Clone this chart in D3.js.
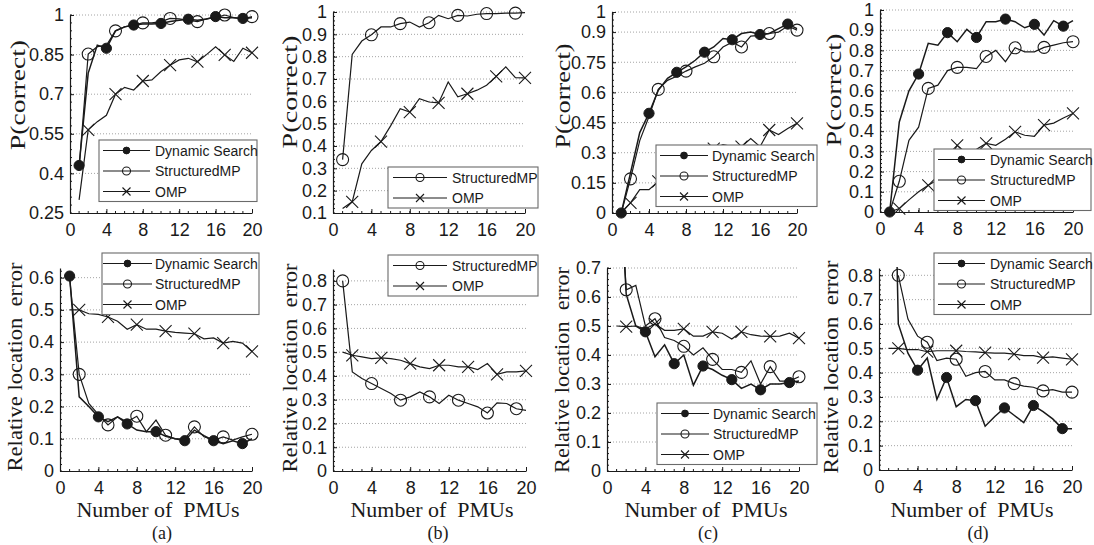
<!DOCTYPE html>
<html>
<head>
<meta charset="utf-8">
<script src="https://cdn.jsdelivr.net/npm/d3@7"></script>
<style>
body { margin: 0; background: #fff; }
svg { display: block; }
</style>
</head>
<body>
<svg width="1094" height="545"></svg>
<script>
// Number of PMUs (x)
var pmus = [1, 2, 3, 4, 5, 6, 7, 8, 9, 10, 11, 12, 13, 14, 15, 16, 17, 18, 19, 20];
var xTicks = [0, 4, 8, 12, 16, 20];
var seriesNames = ["Dynamic Search", "StructuredMP", "OMP"];

// (a) P(correct)
var dsCorrectA = [0.43, 0.78, 0.886, 0.874, 0.94, 0.955, 0.962, 0.966, 0.966, 0.968, 0.975, 0.98, 0.984, 0.98, 0.985, 0.994, 0.99, 0.99, 0.987, 0.99];
var smpCorrectA = [0.42, 0.852, 0.88, 0.885, 0.94, 0.955, 0.962, 0.97, 0.97, 0.975, 0.987, 0.985, 0.98, 0.975, 0.985, 0.99, 1.0, 0.99, 0.985, 0.994];
var ompCorrectA = [0.30, 0.565, 0.596, 0.62, 0.70, 0.726, 0.716, 0.75, 0.754, 0.786, 0.81, 0.83, 0.836, 0.823, 0.85, 0.88, 0.849, 0.824, 0.874, 0.857];
// (a) relative location error
var dsErrorA = [0.605, 0.23, 0.20, 0.168, 0.153, 0.168, 0.146, 0.127, 0.122, 0.122, 0.108, 0.10, 0.094, 0.127, 0.11, 0.094, 0.085, 0.094, 0.085, 0.10];
var smpErrorA = [0.60, 0.30, 0.21, 0.175, 0.143, 0.168, 0.153, 0.17, 0.122, 0.158, 0.111, 0.10, 0.10, 0.137, 0.106, 0.096, 0.106, 0.096, 0.106, 0.114];
var ompErrorA = [0.50, 0.50, 0.488, 0.486, 0.478, 0.465, 0.44, 0.454, 0.44, 0.44, 0.434, 0.43, 0.428, 0.426, 0.41, 0.413, 0.397, 0.402, 0.397, 0.371];

// (b)
var smpCorrectB = [0.339, 0.81, 0.87, 0.898, 0.933, 0.933, 0.948, 0.955, 0.933, 0.952, 0.985, 0.97, 0.985, 0.982, 0.99, 0.993, 0.993, 0.995, 0.995, 0.997];
var ompCorrectB = [0.12, 0.15, 0.32, 0.38, 0.42, 0.49, 0.567, 0.552, 0.612, 0.597, 0.593, 0.687, 0.62, 0.634, 0.65, 0.672, 0.712, 0.754, 0.706, 0.705];
var smpErrorB = [0.80, 0.417, 0.389, 0.368, 0.347, 0.326, 0.298, 0.312, 0.333, 0.312, 0.284, 0.319, 0.298, 0.284, 0.27, 0.244, 0.287, 0.284, 0.262, 0.255];
var ompErrorB = [0.50, 0.487, 0.48, 0.473, 0.476, 0.473, 0.466, 0.452, 0.438, 0.431, 0.445, 0.445, 0.438, 0.438, 0.427, 0.452, 0.407, 0.417, 0.417, 0.421];

// (c)
var dsCorrectC = [0, 0.2, 0.4, 0.496, 0.61, 0.67, 0.70, 0.727, 0.76, 0.80, 0.826, 0.868, 0.862, 0.893, 0.90, 0.888, 0.893, 0.917, 0.94, 0.917];
var smpCorrectC = [0, 0.17, 0.36, 0.48, 0.615, 0.66, 0.68, 0.706, 0.727, 0.745, 0.777, 0.826, 0.85, 0.826, 0.88, 0.884, 0.893, 0.90, 0.93, 0.91];
var ompCorrectC = [0, 0.05, 0.116, 0.116, 0.157, 0.2, 0.22, 0.25, 0.28, 0.3, 0.32, 0.34, 0.33, 0.33, 0.37, 0.33, 0.413, 0.39, 0.42, 0.446];
var dsErrorC = [1.21, 0.61, 0.5, 0.48, 0.394, 0.435, 0.37, 0.40, 0.296, 0.362, 0.35, 0.33, 0.315, 0.285, 0.30, 0.28, 0.30, 0.30, 0.305, 0.31];
var smpErrorC = [1.2, 0.625, 0.64, 0.50, 0.525, 0.46, 0.45, 0.43, 0.40, 0.425, 0.385, 0.35, 0.35, 0.34, 0.38, 0.30, 0.36, 0.31, 0.31, 0.325];
var ompErrorC = [0.5, 0.498, 0.50, 0.49, 0.507, 0.485, 0.485, 0.49, 0.465, 0.465, 0.48, 0.475, 0.455, 0.48, 0.47, 0.465, 0.464, 0.465, 0.475, 0.458];

// (d)
var dsCorrectD = [0, 0.446, 0.60, 0.683, 0.835, 0.826, 0.888, 0.843, 0.904, 0.864, 0.942, 0.942, 0.955, 0.942, 0.912, 0.929, 0.876, 0.947, 0.92, 0.947];
var smpCorrectD = [0, 0.152, 0.355, 0.42, 0.612, 0.628, 0.70, 0.716, 0.716, 0.71, 0.77, 0.80, 0.744, 0.813, 0.793, 0.793, 0.815, 0.826, 0.838, 0.843];
var ompCorrectD = [0, 0.017, 0.06, 0.10, 0.132, 0.16, 0.25, 0.33, 0.29, 0.31, 0.34, 0.33, 0.36, 0.397, 0.38, 0.375, 0.43, 0.44, 0.465, 0.488];
var dsErrorD = [2.5, 0.6, 0.48, 0.41, 0.46, 0.29, 0.38, 0.26, 0.29, 0.285, 0.18, 0.22, 0.255, 0.225, 0.195, 0.265, 0.24, 0.21, 0.17, 0.17];
var smpErrorD = [null, 0.8, 0.62, 0.55, 0.525, 0.45, 0.46, 0.455, 0.385, 0.40, 0.405, 0.37, 0.37, 0.355, 0.345, 0.34, 0.325, 0.33, 0.32, 0.32];
var ompErrorD = [0.5, 0.50, 0.495, 0.495, 0.486, 0.49, 0.49, 0.49, 0.487, 0.485, 0.482, 0.48, 0.48, 0.476, 0.47, 0.47, 0.462, 0.465, 0.46, 0.455];

// y tick labels
var yTicksCorrectA = [0.25, 0.4, 0.55, 0.7, 0.85, 1];
var yTicksCorrectB = [0.1, 0.2, 0.3, 0.4, 0.5, 0.6, 0.7, 0.8, 0.9, 1];
var yTicksCorrectC = [0, 0.15, 0.3, 0.45, 0.6, 0.75, 0.9, 1];
var yTicksCorrectD = [0, 0.1, 0.2, 0.3, 0.4, 0.5, 0.6, 0.7, 0.8, 0.9, 1];
var yTicksErrorA = [0, 0.1, 0.2, 0.3, 0.4, 0.5, 0.6];
var yTicksErrorB = [0, 0.1, 0.2, 0.3, 0.4, 0.5, 0.6, 0.7, 0.8];
var yTicksErrorC = [0, 0.1, 0.2, 0.3, 0.4, 0.5, 0.6, 0.7];
var yTicksErrorD = [0, 0.1, 0.2, 0.3, 0.4, 0.5, 0.6, 0.7, 0.8];

// marker: "dot" filled, "ring" open circle, "x" cross. start = index of first marker (every 3rd point)
function three(ds, smp, omp) {
	return [
		{ name: seriesNames[0], v: ds, mark: "dot", start: 0 },
		{ name: seriesNames[1], v: smp, mark: "ring", start: 1 },
		{ name: seriesNames[2], v: omp, mark: "x", start: 1 }
	];
}
function two(smp, omp) {
	return [
		{ name: seriesNames[1], v: smp, mark: "ring", start: 0 },
		{ name: seriesNames[2], v: omp, mark: "x", start: 1 }
	];
}

var panels = [
	{ left: 70, right: 252, top: 15, bottom: 213, domain: [0.25, 1], ticks: yTicksCorrectA, ysub: 5,
		label: "P(correct)", lx: 18, ly: 95, llen: 110, series: three(dsCorrectA, smpCorrectA, ompCorrectA),
		legend: { x: 99, y: 140, w: 158, line: [4, 51], tx: 56 } },
	{ left: 333, right: 525, top: 12, bottom: 213, domain: [0.1, 1], ticks: yTicksCorrectB, ysub: 5,
		label: "P(correct)", lx: 290, ly: 92, llen: 113, series: two(smpCorrectB, ompCorrectB),
		legend: { x: 388, y: 167, w: 150, line: [5, 59], tx: 64 } },
	{ left: 612, right: 797, top: 12, bottom: 213, domain: [0, 1], ticks: yTicksCorrectC, ysub: 5,
		label: "P(correct)", lx: 563, ly: 96, llen: 105, series: three(dsCorrectC, smpCorrectC, ompCorrectC),
		legend: { x: 656, y: 145, w: 161, line: [4, 52], tx: 56 } },
	{ left: 880, right: 1073, top: 10, bottom: 212, domain: [0, 1], ticks: yTicksCorrectD, ysub: 5,
		label: "P(correct)", lx: 834, ly: 90, llen: 113, series: three(dsCorrectD, smpCorrectD, ompCorrectD),
		legend: { x: 934, y: 149, w: 157, line: [4, 51], tx: 56 } },
	{ left: 60, right: 252, top: 268, bottom: 471, domain: [0, 0.63], ticks: yTicksErrorA, ysub: 5,
		label: "Relative location  error", lx: 15, ly: 367, llen: 209, series: three(dsErrorA, smpErrorA, ompErrorA),
		legend: { x: 102, y: 253, w: 157, line: [1, 50], tx: 53 },
		xlabel: "Number of  PMUs", xlx: 158, tag: "(a)", tagx: 162 },
	{ left: 333, right: 526, top: 269, bottom: 471, domain: [0, 0.85], ticks: yTicksErrorB, ysub: 5,
		label: "Relative location  error", lx: 290, ly: 368, llen: 209, series: two(smpErrorB, ompErrorB),
		legend: { x: 388, y: 255, w: 150, line: [5, 59], tx: 64 },
		xlabel: "Number of  PMUs", xlx: 432, tag: "(b)", tagx: 438 },
	{ left: 607, right: 799, top: 268, bottom: 471, domain: [0, 0.7], ticks: yTicksErrorC, ysub: 5,
		label: "Relative location  error", lx: 562, ly: 370, llen: 206, series: three(dsErrorC, smpErrorC, ompErrorC),
		legend: { x: 657, y: 403, w: 160, line: [4, 52], tx: 56 },
		xlabel: "Number of  PMUs", xlx: 706, tag: "(c)", tagx: 708 },
	{ left: 879, right: 1072, top: 268, bottom: 470, domain: [0, 0.83], ticks: yTicksErrorD, ysub: 5,
		label: "Relative location  error", lx: 831, ly: 367, llen: 213, series: three(dsErrorD, smpErrorD, ompErrorD),
		legend: { x: 934, y: 253, w: 157, line: [4, 51], tx: 56 },
		xlabel: "Number of  PMUs", xlx: 972, tag: "(d)", tagx: 978 }
];

var svg = d3.select("svg");
var ink = "#1a1a1a";
var tickFont = "'Liberation Sans', Arial, sans-serif";
var serif = "'Liberation Serif', 'Times New Roman', serif";
var fmt = (d) => String(+d.toFixed(2));

// Draw one marker into a selection at (cx, cy)
function drawMark(sel, kind, cx, cy, s) {
	if (kind === "dot") {
		sel.append("circle").attr("cx", cx).attr("cy", cy).attr("r", s * 0.85)
			.attr("fill", ink).attr("stroke", ink);
	} else if (kind === "ring") {
		sel.append("circle").attr("cx", cx).attr("cy", cy).attr("r", s)
			.attr("fill", "none").attr("stroke", ink).attr("stroke-width", 1.1);
	} else {
		sel.append("path")
			.attr("d", "M" + (cx - s) + "," + (cy - s) + "L" + (cx + s) + "," + (cy + s) +
				"M" + (cx - s) + "," + (cy + s) + "L" + (cx + s) + "," + (cy - s))
			.attr("stroke", ink).attr("stroke-width", 1.1).attr("fill", "none");
	}
}

panels.forEach(function (p, k) {
	var x = d3.scaleLinear().domain([0, 20]).range([p.left, p.right]);
	var y = d3.scaleLinear().domain(p.domain).range([p.bottom, p.top]);
	var g = svg.append("g");

	// Dotted horizontal grid
	g.selectAll("line.grid")
		.data(p.ticks.filter((t) => t > p.domain[0]))
		.enter().append("line")
		.attr("x1", p.left).attr("x2", p.right)
		.attr("y1", (d) => y(d)).attr("y2", (d) => y(d))
		.attr("stroke", "#9a9a9a").attr("stroke-width", 0.9)
		.attr("stroke-dasharray", "1,2");

	// Minor ticks (inward)
	var xMinor = d3.range(1, 20);
	g.selectAll("line.xminor").data(xMinor).enter().append("line")
		.attr("x1", (d) => x(d)).attr("x2", (d) => x(d))
		.attr("y1", p.bottom).attr("y2", p.bottom - 2)
		.attr("stroke", ink);
	var step = p.ticks[1] - p.ticks[0];
	var yMinor = [];
	for (var v = p.domain[0]; v <= p.domain[1] + 1e-9; v += step / p.ysub) yMinor.push(v);
	g.selectAll("line.yminor").data(yMinor).enter().append("line")
		.attr("x1", p.left).attr("x2", p.left + 2)
		.attr("y1", (d) => y(d)).attr("y2", (d) => y(d))
		.attr("stroke", ink);

	// Axes
	var ax = g.append("g")
		.attr("transform", "translate(0," + p.bottom + ")")
		.call(d3.axisBottom(x).tickValues(xTicks).tickSizeInner(-4).tickSizeOuter(0).tickPadding(10));
	var ay = g.append("g")
		.attr("transform", "translate(" + p.left + ",0)")
		.call(d3.axisLeft(y).tickValues(p.ticks).tickFormat(fmt).tickSizeInner(-4).tickSizeOuter(0).tickPadding(6));
	[ax, ay].forEach(function (a) {
		a.attr("font-family", tickFont).attr("font-size", 18);
		a.select(".domain").attr("stroke", ink).attr("stroke-width", 1.2);
		a.selectAll(".tick line").attr("stroke", ink);
		a.selectAll(".tick text").attr("fill", ink);
	});

	// Lines, clipped to the axes box
	var clipId = "clip" + k;
	svg.append("clipPath").attr("id", clipId).append("rect")
		.attr("x", p.left).attr("y", p.top - 1)
		.attr("width", p.right - p.left + 3).attr("height", p.bottom - p.top + 1);

	var line = d3.line()
		.defined((d) => d != null)
		.x((d, i) => x(pmus[i]))
		.y((d) => y(d));

	p.series.forEach(function (s) {
		g.append("path")
			.datum(s.v)
			.attr("clip-path", "url(#" + clipId + ")")
			.attr("d", line)
			.attr("fill", "none")
			.attr("stroke", ink)
			.attr("stroke-width", s.mark === "dot" ? 1.5 : 1.2);
		s.v.forEach(function (val, i) {
			if (val == null || i < s.start || (i - s.start) % 3) return;
			if (val > p.domain[1] + 0.01) return;
			drawMark(g, s.mark, x(pmus[i]), y(val), 6);
		});
	});

	// Legend
	var L = p.legend, rowH = 20.5;
	var lg = g.append("g").attr("transform", "translate(" + L.x + "," + L.y + ")");
	lg.append("rect")
		.attr("width", L.w).attr("height", p.series.length * rowH)
		.attr("fill", "#fff").attr("stroke", "#6a6a6a").attr("stroke-width", 1.1);
	p.series.forEach(function (s, i) {
		var ry = 10.5 + i * rowH;
		lg.append("line")
			.attr("x1", L.line[0]).attr("x2", L.line[1])
			.attr("y1", ry).attr("y2", ry)
			.attr("stroke", ink).attr("stroke-width", 1.1);
		drawMark(lg, s.mark, (L.line[0] + L.line[1]) / 2, ry, 4);
		lg.append("text")
			.attr("x", L.tx).attr("y", ry + 5)
			.attr("font-family", tickFont).attr("font-size", 14)
			.attr("fill", ink)
			.text(s.name);
	});

	// Y label
	g.append("text")
		.attr("transform", "translate(" + p.lx + "," + p.ly + ") rotate(-90)")
		.attr("text-anchor", "middle")
		.attr("dominant-baseline", "central")
		.attr("font-family", serif).attr("font-size", 21)
		.attr("fill", ink)
		.style("white-space", "pre")
		.attr("textLength", p.llen).attr("lengthAdjust", "spacingAndGlyphs")
		.text(p.label);

	// X label and panel tag (bottom row)
	if (p.xlabel) {
		g.append("text")
			.attr("x", p.xlx).attr("y", 517)
			.attr("text-anchor", "middle")
			.attr("font-family", serif).attr("font-size", 21)
			.attr("fill", ink)
			.style("white-space", "pre")
			.attr("textLength", 163).attr("lengthAdjust", "spacingAndGlyphs")
			.text(p.xlabel);
		g.append("text")
			.attr("x", p.tagx).attr("y", 539)
			.attr("text-anchor", "middle")
			.attr("font-family", serif).attr("font-size", 18)
			.attr("fill", ink)
			.text(p.tag);
	}
});
</script>
</body>
</html>
